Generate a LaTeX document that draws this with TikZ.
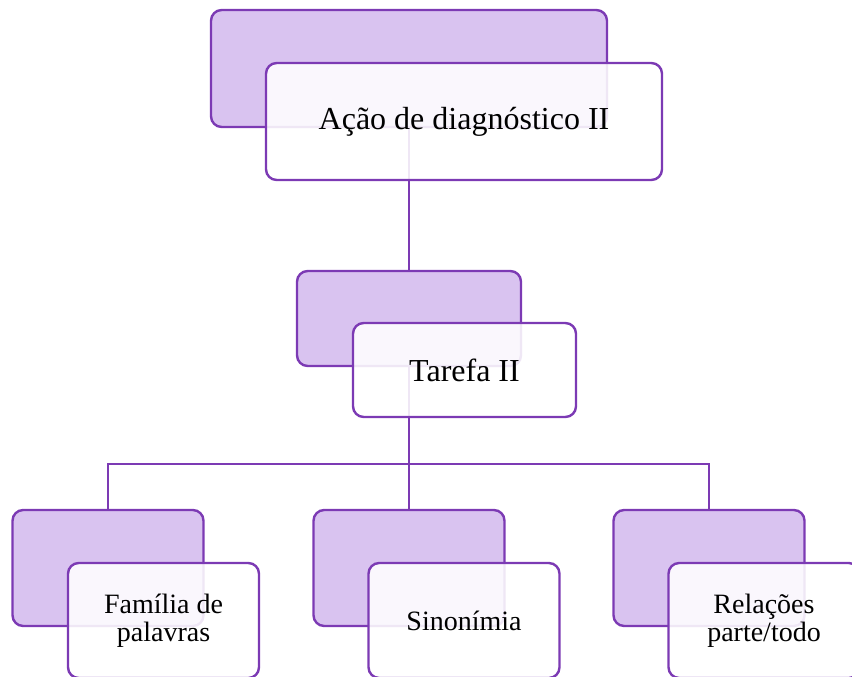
\documentclass[tikz,border=0pt]{standalone}
\usepackage{fontspec}
\setmainfont{Liberation Serif}
\definecolor{boxfill}{RGB}{217,195,240}
\definecolor{boxline}{RGB}{124,58,180}
\tikzset{
  backbox/.style={draw=boxline, fill=boxfill, line width=1.8pt, rounded corners=8pt, inner sep=0pt, outer sep=0pt},
  frontbox/.style={draw=boxline, fill=white, fill opacity=0.88, text opacity=1, line width=1.8pt, rounded corners=8pt, inner sep=0pt, outer sep=0pt, align=center},
  conn/.style={draw=boxline, line width=1.6pt, line join=miter},
  bigtext/.style={font=\fontsize{24}{26}\selectfont},
  smalltext/.style={font=\fontsize{21}{21}\selectfont}
}
\begin{document}
\begin{tikzpicture}[x=0.75pt,y=-0.75pt]
\useasboundingbox (0,0) rectangle (852,677);
\clip (0,0) rectangle (852,677);
% back boxes
\node[backbox, minimum width=396*0.75pt, minimum height=117*0.75pt] (topback) at (409,68.5) {};
\node[backbox, minimum width=224*0.75pt, minimum height=95*0.75pt] (midback) at (409,318.5) {};
\node[backbox, minimum width=191*0.75pt, minimum height=116*0.75pt] (b1back) at (108,568) {};
\node[backbox, minimum width=191*0.75pt, minimum height=116*0.75pt] (b2back) at (409,568) {};
\node[backbox, minimum width=191*0.75pt, minimum height=116*0.75pt] (b3back) at (709,568) {};
% connectors
\coordinate (junc) at (409,464);
\draw[conn] (topback.south) -- (midback.north);
\draw[conn] (midback.south) -- (junc);
\draw[conn] (b1back.north) |- (junc) -| (b3back.north);
\draw[conn] (junc) -- (b2back.north);
% front boxes
\node[frontbox, bigtext, minimum width=396*0.75pt, minimum height=117*0.75pt] (topfront) at (464,121.5) {Ação de diagnóstico II};
\node[frontbox, bigtext, minimum width=223*0.75pt, minimum height=94*0.75pt] (midfront) at (464.5,370) {Tarefa II};
\node[frontbox, smalltext, minimum width=191*0.75pt, minimum height=115*0.75pt] (b1front) at (163.5,620.5) {Família de\\palavras};
\node[frontbox, smalltext, minimum width=191*0.75pt, minimum height=115*0.75pt] (b2front) at (464,620.5) {Sinonímia};
\node[frontbox, smalltext, minimum width=191*0.75pt, minimum height=115*0.75pt] (b3front) at (764,620.5) {Relações\\parte/todo};
\end{tikzpicture}
\end{document}
